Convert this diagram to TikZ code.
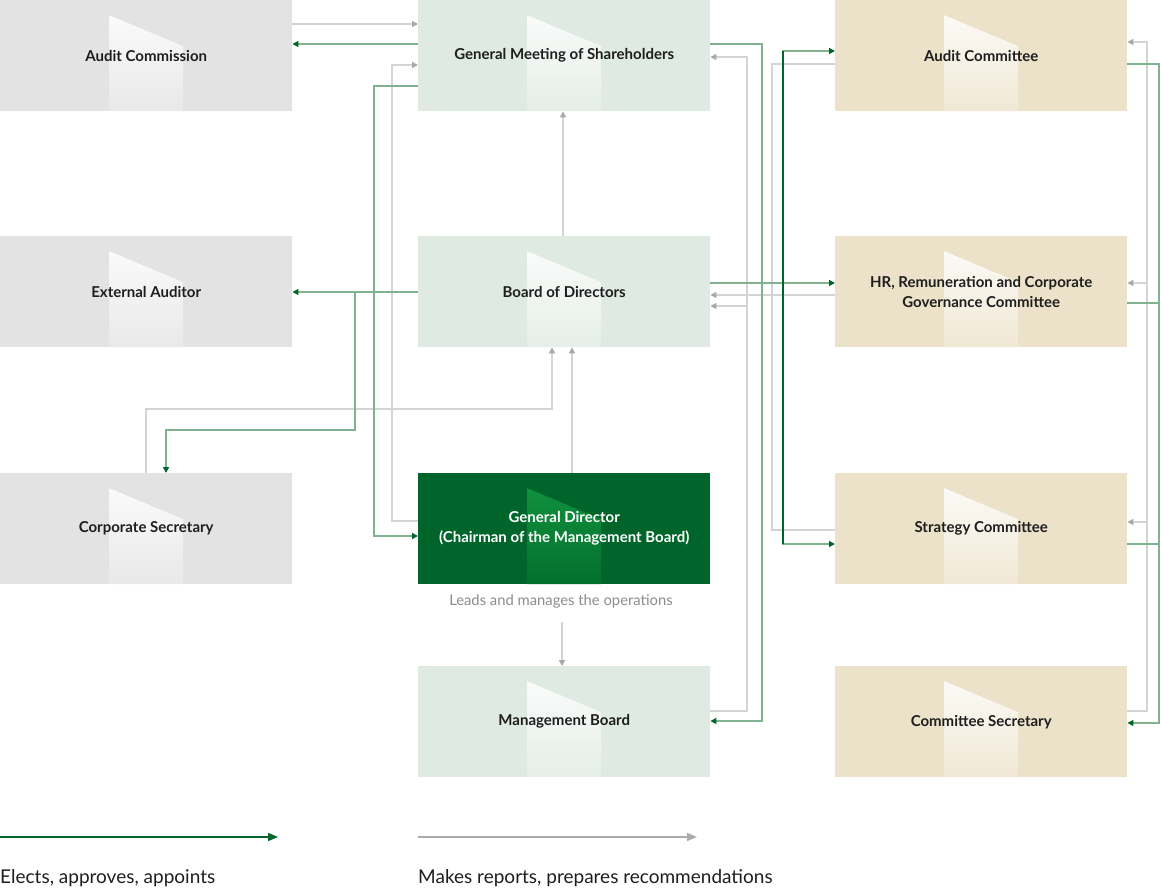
\documentclass[tikz,border=0pt]{standalone}
\usepackage{fontspec}
\setmainfont{Lato}
\usetikzlibrary{arrows.meta,calc}
\definecolor{boxgray}{HTML}{E3E3E3}
\definecolor{boxgreen}{HTML}{DFEAE2}
\definecolor{boxbeige}{HTML}{ECE2CA}
\definecolor{boxdark}{HTML}{00652A}
\definecolor{darktop}{HTML}{12953F}
\definecolor{darkbot}{HTML}{03702E}
\definecolor{dkgreen}{HTML}{00652A}
\definecolor{ltgreen}{HTML}{80B28F}
\definecolor{lnegray}{HTML}{D4D4D4}
\definecolor{tipgray}{HTML}{A8A8A8}
\definecolor{leggray}{HTML}{ABABAB}
\definecolor{txt}{HTML}{1E1E1E}
\definecolor{notegray}{HTML}{8C8C8C}
\begin{document}
\begin{tikzpicture}[x=1pt,y=-1pt,
  unit/.style={minimum width=292pt,minimum height=111pt,inner sep=0pt,
    align=center,font=\fontsize{15}{20}\selectfont\bfseries,text=txt,anchor=north west},
  decor/.style 2 args={path picture={
    \shade[top color=#1,bottom color=#2]
      ($(path picture bounding box.north west)+(109pt,-15pt)$) --
      ($(path picture bounding box.north west)+(183pt,-46pt)$) --
      ($(path picture bounding box.south west)+(183pt,0pt)$) --
      ($(path picture bounding box.south west)+(109pt,0pt)$) -- cycle;}},
  grayunit/.style={unit,fill=boxgray,decor={white!92!boxgray}{white!20!boxgray}},
  greenunit/.style={unit,fill=boxgreen,decor={white!92!boxgreen}{white!20!boxgreen}},
  beigeunit/.style={unit,fill=boxbeige,decor={white!92!boxbeige}{white!20!boxbeige}},
  darkunit/.style={unit,fill=boxdark,text=white,decor={darktop}{darkbot}},
  tipg/.style={-{Triangle[length=6pt,width=6pt,color=dkgreen]}},
  tipr/.style={-{Triangle[length=6pt,width=6pt,color=tipgray]}},
  gl/.style={draw=ltgreen,line width=1.4pt},
  gr/.style={draw=lnegray,line width=1.4pt},
]
\useasboundingbox (0,0) rectangle (1161,888);

% ---- units -------------------------------------------------------------
\node[grayunit]  (acm)  at (0,0)     {Audit Commission};
\node[greenunit] (gms)  at (418,0)   {General Meeting of Shareholders};
\node[beigeunit] (auc)  at (835,0)   {Audit Committee};
\node[grayunit]  (ext)  at (0,236)   {External Auditor};
\node[greenunit] (bod)  at (418,236) {Board of Directors};
\node[beigeunit] (hrc)  at (835,236) {HR, Remuneration and Corporate\\Governance Committee};
\node[grayunit]  (cs)   at (0,473)   {Corporate Secretary};
\node[darkunit]  (gd)   at (418,473) {General Director\\(Chairman of the Management Board)};
\node[beigeunit] (stc)  at (835,473) {Strategy Committee};
\node[greenunit] (mb)   at (418,666) {Management Board};
\node[beigeunit] (csec) at (835,666) {Committee Secretary};

\node[font=\fontsize{14.8}{16}\selectfont,text=notegray,inner sep=0pt] (lead) at (561,601)
  {Leads and manages the operations};
\coordinate (leadfoot) at (562,622);

% ---- reports / recommendations (gray) ----------------------------------
\draw[gr,tipr] (acm.east |- 0,24) -- (gms.west |- 0,24);
\draw[gr,tipr] (gd.west |- 0,521) -| (392,65) -- (gms.west |- 0,65);
\draw[gr,tipr] (bod.north -| 563,0) -- (gms.south -| 563,0);
\draw[gr,tipr] (gd.north -| 572,0) -- (bod.south -| 572,0);
\draw[gr,tipr] (cs.north -| 146,0) |- (552,409) -- (bod.south -| 552,0);
\draw[gr,tipr] (leadfoot) -- (mb.north -| 562,0);
\draw[gr,tipr] (mb.east |- 0,711) -| (747,57) -- (gms.east |- 0,57);
\draw[gr,tipr] (747,306) -- (bod.east |- 0,306);
\draw[gr] (auc.west |- 0,64) -| (772,295);
\draw[gr] (stc.west |- 0,530) -| (772,295);
\draw[gr,tipr] (hrc.west |- 0,295) -- (bod.east |- 0,295);
\draw[gr,tipr] (csec.east |- 0,711) -| (1147,42) -- (auc.east |- 0,42);
\draw[gr,tipr] (1147,283) -- (hrc.east |- 0,283);
\draw[gr,tipr] (1147,522) -- (stc.east |- 0,522);

% ---- elects / approves / appoints (green) ------------------------------
\draw[gl,tipg] (gms.west |- 0,44) -- (acm.east |- 0,44);
\draw[gl,tipg] (gms.west |- 0,86) -| (374,536) -- (gd.west |- 0,536);
\draw[gl,tipg] (gms.east |- 0,44) -| (762,721) -- (mb.east |- 0,721);
\draw[gl,tipg] (bod.west |- 0,292) -- (ext.east |- 0,292);
\draw[gl,tipg] (355,292) |- (166,430) -- (cs.north -| 166,0);
\draw[gl,tipg] (bod.east |- 0,283) -- (hrc.west |- 0,283);
\draw[gl,tipg] (783,283) |- (auc.west |- 0,51);
\draw[gl,tipg] (783,283) |- (stc.west |- 0,544);
\draw[draw=dkgreen,line width=1.4pt] (783,51) -- (783,544);
\draw[gl,tipg] (auc.east |- 0,64) -| (1159,723) -- (csec.east |- 0,723);
\draw[gl] (hrc.east |- 0,303) -- (1159,303);
\draw[gl] (stc.east |- 0,544) -- (1159,544);

% ---- legend ------------------------------------------------------------
\coordinate (lga) at (0,837);
\coordinate (lgb) at (278,837);
\coordinate (lgc) at (418,837);
\coordinate (lgd) at (697,837);
\draw[draw=dkgreen,line width=1.6pt,-{Triangle[length=10pt,width=8pt]}] (lga) -- (lgb);
\draw[draw=leggray,line width=1.6pt,-{Triangle[length=10pt,width=8pt]}] (lgc) -- (lgd);
\node[anchor=west,inner sep=0pt,font=\fontsize{19}{20}\selectfont,text=txt] (lgt1) at (0,878)
  {Elects, approves, appoints};
\node[anchor=west,inner sep=0pt,font=\fontsize{19}{20}\selectfont,text=txt] (lgt2) at (418,878)
  {Makes reports, prepares recommendations};
\end{tikzpicture}
\end{document}
